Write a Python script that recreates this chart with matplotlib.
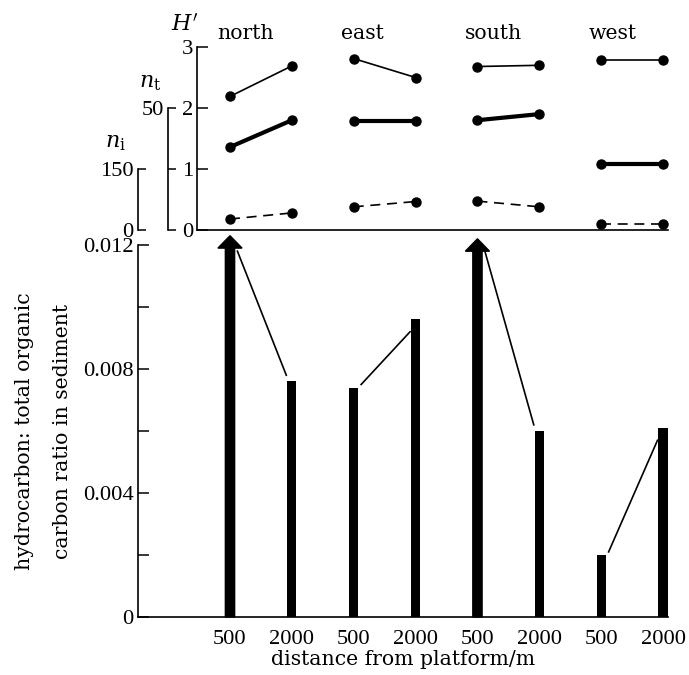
import numpy as np
import matplotlib
matplotlib.use('Agg')
import matplotlib.pyplot as plt

plt.rcParams['font.family'] = 'Liberation Serif'
plt.rcParams['mathtext.fontset'] = 'dejavuserif'

# data
stations = ['north', 'east', 'south', 'west']
distances = ['500', '2000'] * 4
# hydrocarbon : total organic carbon ratio (off-scale values drawn as arrows)
hc_ratio = [0.0123, 0.0076, 0.0074, 0.0096, 0.0122, 0.0060, 0.0020, 0.0061]
off_scale = [True, False, False, False, True, False, False, False]
# diversity and counts
h_div = [2.19, 2.69, 2.81, 2.50, 2.68, 2.70, 2.79, 2.79]
n_t = [34, 45, 44.5, 44.5, 45, 47.5, 27, 27]
n_i = [27, 42, 57, 70, 71, 57, 15, 15]

W, H = 689, 675
x = np.arange(len(hc_ratio))
xlim = (-1.487, 7.08)
word_font = dict(family='DejaVu Serif', size=14.7)
num_size = 16.2

fig = plt.figure(figsize=(W / 100, H / 100), dpi=100)

# ---- bottom panel: ratio bars
ax = fig.add_axes([138 / W, 1 - 617 / H, 530 / W, 372 / H])
ax.set_xlim(*xlim)
ax.set_ylim(0, 0.012)
for xi, v, off in zip(x, hc_ratio, off_scale):
    if off:
        ax.arrow(xi, 0, 0, v, width=0.15, head_width=0.39, head_length=0.0004,
                 length_includes_head=True, color='black', clip_on=False, zorder=3)
    else:
        ax.bar(xi, v, width=0.15, color='black', zorder=3)

# lines joining the two distances at each station
for g in range(4):
    i0, i1 = 2 * g, 2 * g + 1
    v0 = min(hc_ratio[i0], 0.0117)
    v1 = hc_ratio[i1]
    y1 = v1 + 0.0002 if v1 < v0 else v1 - 0.0004
    ax.plot([x[i0] + 0.12, x[i1] - 0.09], [v0 + 0.0001, y1], color='black', lw=1.2)

for s in ['top', 'right']:
    ax.spines[s].set_visible(False)
ax.spines['left'].set_linewidth(1.2)
ax.spines['bottom'].set_linewidth(1.2)
ax.set_yticks([0, 0.004, 0.008, 0.012], labels=['0', '0.004', '0.008', '0.012'])
ax.set_yticks([0.002, 0.006, 0.010], minor=True)
ax.tick_params(axis='y', which='both', direction='in', length=8, width=1.1,
               pad=3, labelsize=num_size)
ax.set_xticks(x, labels=distances)
ax.tick_params(axis='x', length=0, pad=9, labelsize=num_size)
ax.set_xlabel('distance from platform/m', fontdict=word_font, labelpad=1)
ax.set_ylabel('hydrocarbon: total organic\ncarbon ratio in sediment',
              fontdict=word_font, linespacing=2.25, labelpad=8)

# ---- top panel: H', n_t, n_i
axt = fig.add_axes([138 / W, 1 - 230 / H, 530 / W, 183 / H])
axt.set_xlim(*xlim)
axt.set_ylim(0, 3)
axt.patch.set_visible(False)
ax_nt = axt.twinx()
ax_nt.set_ylim(0, 75)
ax_ni = axt.twinx()
ax_ni.set_ylim(0, 450)

for g in range(4):
    sl = slice(2 * g, 2 * g + 2)
    axt.plot(x[sl], h_div[sl], '-o', color='black', lw=1.2, ms=6.5, clip_on=False)
    ax_nt.plot(x[sl], n_t[sl], '-o', color='black', lw=3, ms=6.5, clip_on=False)
    ax_ni.plot(x[sl], n_i[sl], '--o', color='black', lw=1.2, ms=6.5,
               dashes=(6, 4), clip_on=False)
    axt.text(x[2 * g] - 0.2, 3.22, stations[g], ha='left', va='center',
             fontdict=word_font, clip_on=False)

for a in [axt, ax_nt, ax_ni]:
    for s in ['top', 'right']:
        a.spines[s].set_visible(False)
    a.set_xticks([])
for a in [ax_nt, ax_ni]:
    a.spines['bottom'].set_visible(False)
    a.spines['left'].set_visible(True)
    a.yaxis.set_ticks_position('left')

axt.spines['left'].set_position(('data', -0.53))
axt.spines['bottom'].set_bounds(-0.53, xlim[1])
axt.spines['left'].set_linewidth(1.2)
axt.spines['bottom'].set_linewidth(1.2)
axt.set_yticks([0, 1, 2, 3])
axt.tick_params(axis='y', direction='in', length=8, width=1.1, pad=3, labelsize=num_size)

ax_nt.spines['left'].set_position(('data', -1.0))
ax_nt.spines['left'].set_bounds(0, 50)
ax_nt.spines['left'].set_linewidth(1.2)
ax_nt.set_yticks([0, 25, 50], labels=['', '', '50'])
ax_nt.tick_params(axis='y', direction='in', length=6, width=1.1, pad=3, labelsize=num_size)

ax_ni.spines['left'].set_position(('axes', 0))
ax_ni.spines['left'].set_bounds(0, 150)
ax_ni.spines['left'].set_linewidth(1.2)
ax_ni.set_yticks([0, 150], labels=['0', '150'])
ax_ni.tick_params(axis='y', direction='in', length=6, width=1.1, pad=3, labelsize=num_size)

fig.text(185 / W, 1 - 25 / H, "$H'$", ha='center', va='center', fontsize=16)
fig.text(150 / W, 1 - 83 / H, r"$n_\mathrm{t}$", ha='center', va='center', fontsize=16)
fig.text(115 / W, 1 - 143 / H, r"$n_\mathrm{i}$", ha='center', va='center', fontsize=16)

fig.savefig('out.png', dpi=100)
